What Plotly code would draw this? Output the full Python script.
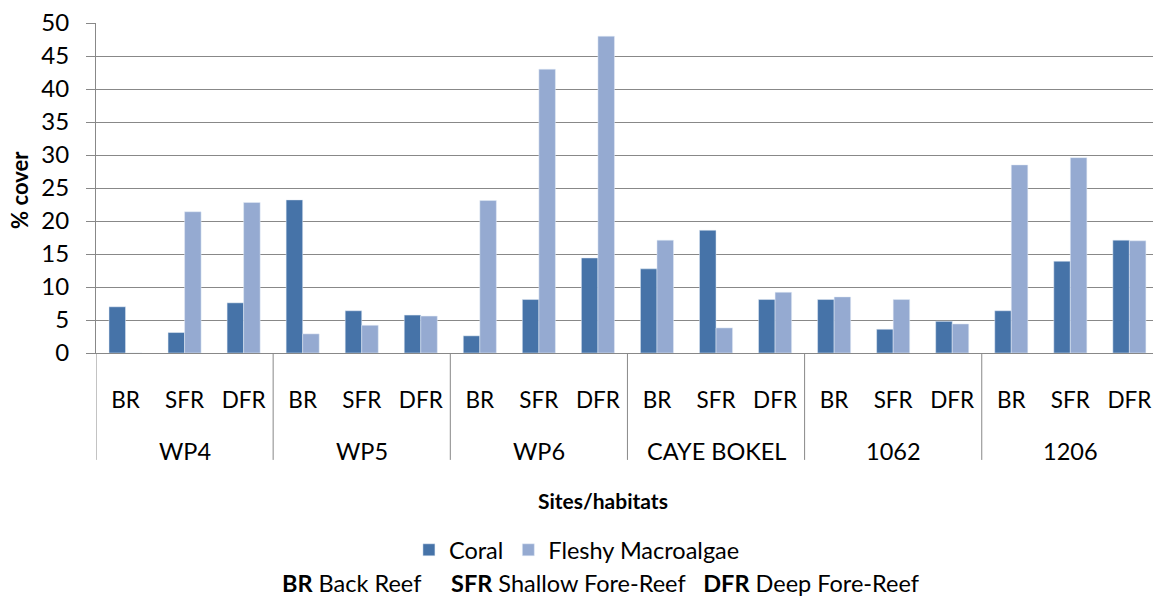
import plotly.graph_objects as go

sites = ["WP4", "WP5", "WP6", "CAYE BOKEL", "1062", "1206"]
habitats = ["BR", "SFR", "DFR"]
coral = [7.0, 3.1, 7.6,
         23.2, 6.4, 5.75,
         2.6, 8.1, 14.4,
         12.75, 18.6, 8.1,
         8.1, 3.6, 4.8,
         6.4, 13.9, 17.1]
algae = [0.0, 21.4, 22.8,
         2.9, 4.2, 5.6,
         23.1, 43.0, 48.0,
         17.1, 3.8, 9.2,
         8.5, 8.1, 4.4,
         28.5, 29.6, 17.0]
y_ticks = [0, 5, 10, 15, 20, 25, 30, 35, 40, 45, 50]

FONT = "Lato"
GRID = "#888888"

n_h = len(habitats)
idx = list(range(len(sites) * n_h))
tick_text = [h for s in sites for h in habitats]

fig = go.Figure()
fig.add_trace(go.Bar(x=idx, y=coral, name="Coral", marker=dict(color="#4673A8")))
fig.add_trace(go.Bar(x=idx, y=algae, name="Fleshy Macroalgae", marker=dict(color="#95AAD1")))

shapes = []
for g in range(len(sites)):
    xd = g * n_h - 0.5
    shapes.append(dict(type="line", xref="x", yref="paper", x0=xd, x1=xd, y0=0, y1=-0.324,
                       line=dict(color=GRID, width=1)))

annotations = []
for g, s in enumerate(sites):
    annotations.append(dict(text=s, x=g * n_h + 1, xref="x", y=-0.297, yref="paper",
                            showarrow=False, yanchor="middle", font=dict(size=23.5)))
annotations.append(dict(text="<b>Sites/habitats</b>", x=0.4797, xref="paper", y=-0.448, yref="paper",
                        showarrow=False, yanchor="middle", font=dict(size=21)))
annotations.append(dict(text="<b>% cover</b>", textangle=-90, x=-0.072, xref="paper", y=0.494, yref="paper",
                        showarrow=False, xanchor="center", yanchor="middle", font=dict(size=22)))
nb = "\u00a0"
annotations.append(dict(text="<b>BR</b> Back Reef" + nb * 5 + "<b>SFR</b> Shallow Fore-Reef" + nb * 3 +
                        "<b>DFR</b> Deep Fore-Reef",
                        x=0.477, xref="paper", y=-0.697, yref="paper",
                        showarrow=False, yanchor="middle", font=dict(size=23.5)))

fig.update_layout(
    width=1153, height=599,
    margin=dict(l=96, r=0, t=23, b=246),
    paper_bgcolor="white", plot_bgcolor="white",
    font=dict(family=FONT, size=21, color="black"),
    barmode="group", bargap=0.44, bargroupgap=0,
    showlegend=True,
    legend=dict(orientation="h", x=0.455, xanchor="center", y=-0.597, yanchor="middle",
                font=dict(size=23.5), itemwidth=30),
    shapes=shapes, annotations=annotations,
)
fig.update_xaxes(range=[-0.5, 17.4], tickmode="array", tickvals=idx, ticktext=tick_text,
                 ticks="outside", ticklen=27, tickcolor="rgba(0,0,0,0)",
                 showline=True, linecolor=GRID, linewidth=1, showgrid=False, zeroline=False,
                 tickfont=dict(size=22.5))
fig.update_yaxes(range=[0, 50], tickmode="array", tickvals=y_ticks,
                 showgrid=True, gridcolor=GRID, gridwidth=1, zeroline=False,
                 showline=True, linecolor=GRID, linewidth=1,
                 ticks="outside", ticklen=9, tickcolor=GRID, ticklabelstandoff=12,
                 tickfont=dict(size=24))

fig.write_html("out.html", config={"displayModeBar": False},
               post_script="document.body.style.margin='0';document.body.style.overflow='hidden';")
